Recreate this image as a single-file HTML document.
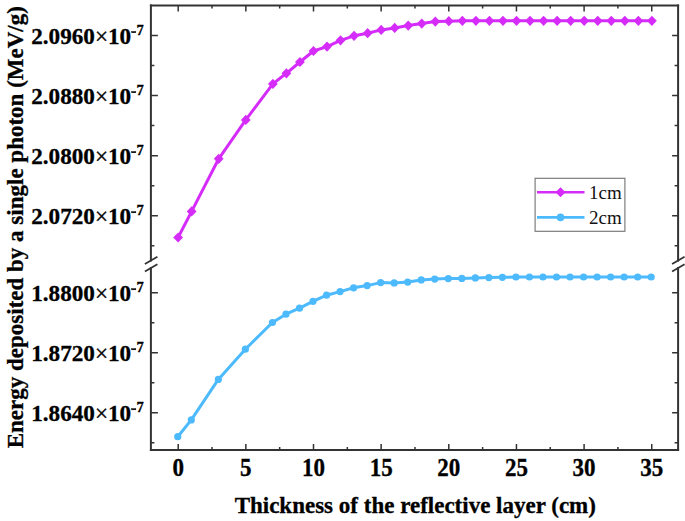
<!DOCTYPE html>
<html><head><meta charset="utf-8"><style>
html,body{margin:0;padding:0;background:#fff;}
body{width:685px;height:521px;overflow:hidden;}
svg{display:block;}
#w{width:685px;height:521px;}
</style></head><body>
<div id="w"><svg width="685" height="521" viewBox="0 0 685 521"><g stroke="#333" stroke-width="2" fill="none" stroke-linecap="square"><path d="M150.9 5.6H678.1M150.9 449.9H678.1"/><path d="M150.9 5.6V260.5M150.9 268.0V449.9"/><path d="M678.1 5.6V260.5M678.1 268.0V449.9"/></g><g stroke="#333" stroke-width="1.8" fill="none"><path d="M144.9 264.0L157.4 256.8"/><path d="M144.9 271.5L157.4 264.3"/><path d="M672.1 264.0L684.6 256.8"/><path d="M672.1 271.5L684.6 264.3"/></g><g stroke="#333" stroke-width="1.5" fill="none"><path d="M178.20 449.9v-6M178.20 5.6v6M212.02 449.9v-3M212.02 5.6v3M245.85 449.9v-6M245.85 5.6v6M279.67 449.9v-3M279.67 5.6v3M313.50 449.9v-6M313.50 5.6v6M347.32 449.9v-3M347.32 5.6v3M381.15 449.9v-6M381.15 5.6v6M414.97 449.9v-3M414.97 5.6v3M448.80 449.9v-6M448.80 5.6v6M482.62 449.9v-3M482.62 5.6v3M516.45 449.9v-6M516.45 5.6v6M550.27 449.9v-3M550.27 5.6v3M584.10 449.9v-6M584.10 5.6v6M617.92 449.9v-3M617.92 5.6v3M651.75 449.9v-6M651.75 5.6v6M150.9 35.55h7M678.1 35.55h-6M150.9 65.57h3.5M678.1 65.57h-3.5M150.9 95.59h7M678.1 95.59h-6M150.9 125.61h3.5M678.1 125.61h-3.5M150.9 155.63h7M678.1 155.63h-6M150.9 185.65h3.5M678.1 185.65h-3.5M150.9 215.67h7M678.1 215.67h-6M150.9 245.69h3.5M678.1 245.69h-3.5M150.9 292.70h7M678.1 292.70h-6M150.9 322.70h3.5M678.1 322.70h-3.5M150.9 352.70h7M678.1 352.70h-6M150.9 382.70h3.5M678.1 382.70h-3.5M150.9 412.70h7M678.1 412.70h-6M150.9 442.70h3.5M678.1 442.70h-3.5"/></g><polyline points="178.10,237.50 191.64,211.40 218.71,158.80 245.78,119.90 272.86,83.90 286.40,73.30 299.93,62.00 313.47,51.00 327.01,46.60 340.54,40.30 354.08,35.80 367.62,33.20 381.15,29.90 394.69,27.90 408.23,25.60 421.77,23.60 435.30,21.60 448.84,21.20 462.38,20.80 475.91,20.80 489.45,20.80 502.99,20.80 516.52,20.80 530.06,20.80 543.60,20.80 557.14,20.80 570.67,20.80 584.21,20.80 597.75,20.80 611.28,20.80 624.82,20.80 638.36,20.80 651.89,20.80" fill="none" stroke="#D52CFA" stroke-width="3" stroke-linejoin="round"/><g fill="#D52CFA"><path d="M178.10 232.40L183.00 237.50L178.10 242.60L173.20 237.50Z"/><path d="M191.64 206.30L196.54 211.40L191.64 216.50L186.74 211.40Z"/><path d="M218.71 153.70L223.61 158.80L218.71 163.90L213.81 158.80Z"/><path d="M245.78 114.80L250.69 119.90L245.78 125.00L240.88 119.90Z"/><path d="M272.86 78.80L277.76 83.90L272.86 89.00L267.96 83.90Z"/><path d="M286.40 68.20L291.30 73.30L286.40 78.40L281.50 73.30Z"/><path d="M299.93 56.90L304.83 62.00L299.93 67.10L295.03 62.00Z"/><path d="M313.47 45.90L318.37 51.00L313.47 56.10L308.57 51.00Z"/><path d="M327.01 41.50L331.91 46.60L327.01 51.70L322.11 46.60Z"/><path d="M340.54 35.20L345.44 40.30L340.54 45.40L335.64 40.30Z"/><path d="M354.08 30.70L358.98 35.80L354.08 40.90L349.18 35.80Z"/><path d="M367.62 28.10L372.52 33.20L367.62 38.30L362.72 33.20Z"/><path d="M381.15 24.80L386.05 29.90L381.15 35.00L376.25 29.90Z"/><path d="M394.69 22.80L399.59 27.90L394.69 33.00L389.79 27.90Z"/><path d="M408.23 20.50L413.13 25.60L408.23 30.70L403.33 25.60Z"/><path d="M421.77 18.50L426.67 23.60L421.77 28.70L416.87 23.60Z"/><path d="M435.30 16.50L440.20 21.60L435.30 26.70L430.40 21.60Z"/><path d="M448.84 16.10L453.74 21.20L448.84 26.30L443.94 21.20Z"/><path d="M462.38 15.70L467.28 20.80L462.38 25.90L457.48 20.80Z"/><path d="M475.91 15.70L480.81 20.80L475.91 25.90L471.01 20.80Z"/><path d="M489.45 15.70L494.35 20.80L489.45 25.90L484.55 20.80Z"/><path d="M502.99 15.70L507.89 20.80L502.99 25.90L498.09 20.80Z"/><path d="M516.52 15.70L521.42 20.80L516.52 25.90L511.62 20.80Z"/><path d="M530.06 15.70L534.96 20.80L530.06 25.90L525.16 20.80Z"/><path d="M543.60 15.70L548.50 20.80L543.60 25.90L538.70 20.80Z"/><path d="M557.14 15.70L562.04 20.80L557.14 25.90L552.24 20.80Z"/><path d="M570.67 15.70L575.57 20.80L570.67 25.90L565.77 20.80Z"/><path d="M584.21 15.70L589.11 20.80L584.21 25.90L579.31 20.80Z"/><path d="M597.75 15.70L602.65 20.80L597.75 25.90L592.85 20.80Z"/><path d="M611.28 15.70L616.18 20.80L611.28 25.90L606.38 20.80Z"/><path d="M624.82 15.70L629.72 20.80L624.82 25.90L619.92 20.80Z"/><path d="M638.36 15.70L643.26 20.80L638.36 25.90L633.46 20.80Z"/><path d="M651.89 15.70L656.79 20.80L651.89 25.90L647.00 20.80Z"/></g><polyline points="177.75,436.70 191.28,419.90 218.33,379.40 245.38,349.20 272.44,322.50 285.97,314.20 299.49,308.20 313.02,301.30 326.55,295.20 340.07,291.60 353.60,287.80 367.13,285.60 380.65,282.60 394.18,282.90 407.71,282.10 421.24,279.90 434.76,279.10 448.29,278.60 461.82,278.40 475.34,277.90 488.87,277.60 502.40,277.30 515.92,277.00 529.45,277.00 542.98,277.00 556.51,277.00 570.03,277.00 583.56,277.00 597.09,277.00 610.61,277.00 624.14,277.00 637.67,277.00 651.19,277.00" fill="none" stroke="#4CBAFD" stroke-width="3" stroke-linejoin="round"/><g fill="#4CBAFD"><circle cx="177.75" cy="436.70" r="3.6"/><circle cx="191.28" cy="419.90" r="3.6"/><circle cx="218.33" cy="379.40" r="3.6"/><circle cx="245.38" cy="349.20" r="3.6"/><circle cx="272.44" cy="322.50" r="3.6"/><circle cx="285.97" cy="314.20" r="3.6"/><circle cx="299.49" cy="308.20" r="3.6"/><circle cx="313.02" cy="301.30" r="3.6"/><circle cx="326.55" cy="295.20" r="3.6"/><circle cx="340.07" cy="291.60" r="3.6"/><circle cx="353.60" cy="287.80" r="3.6"/><circle cx="367.13" cy="285.60" r="3.6"/><circle cx="380.65" cy="282.60" r="3.6"/><circle cx="394.18" cy="282.90" r="3.6"/><circle cx="407.71" cy="282.10" r="3.6"/><circle cx="421.24" cy="279.90" r="3.6"/><circle cx="434.76" cy="279.10" r="3.6"/><circle cx="448.29" cy="278.60" r="3.6"/><circle cx="461.82" cy="278.40" r="3.6"/><circle cx="475.34" cy="277.90" r="3.6"/><circle cx="488.87" cy="277.60" r="3.6"/><circle cx="502.40" cy="277.30" r="3.6"/><circle cx="515.92" cy="277.00" r="3.6"/><circle cx="529.45" cy="277.00" r="3.6"/><circle cx="542.98" cy="277.00" r="3.6"/><circle cx="556.51" cy="277.00" r="3.6"/><circle cx="570.03" cy="277.00" r="3.6"/><circle cx="583.56" cy="277.00" r="3.6"/><circle cx="597.09" cy="277.00" r="3.6"/><circle cx="610.61" cy="277.00" r="3.6"/><circle cx="624.14" cy="277.00" r="3.6"/><circle cx="637.67" cy="277.00" r="3.6"/><circle cx="651.19" cy="277.00" r="3.6"/></g><rect x="535.1" y="178.3" width="89.8" height="53" fill="#fff" stroke="#777" stroke-width="1.15"/><path d="M537 192.2H584.5" stroke="#D52CFA" stroke-width="2.6"/><path d="M560.5 187.2L565.5 192.2L560.5 197.2L555.5 192.2Z" fill="#D52CFA"/><path d="M537 217.4H584.5" stroke="#4CBAFD" stroke-width="2.6"/><circle cx="560.5" cy="217.4" r="3.8" fill="#4CBAFD"/><g font-family="Liberation Serif, serif" font-size="19" fill="#111"><text x="589" y="199.2">1cm</text><text x="589" y="223.8">2cm</text></g><g font-family="Liberation Serif, serif" font-weight="bold" font-size="23.0" fill="#000" stroke="#000" stroke-width="0.3"><text transform="translate(178.20 475.6) scale(1 1.05)" text-anchor="middle">0</text><text transform="translate(245.85 475.6) scale(1 1.05)" text-anchor="middle">5</text><text transform="translate(313.50 475.6) scale(1 1.05)" text-anchor="middle">10</text><text transform="translate(381.15 475.6) scale(1 1.05)" text-anchor="middle">15</text><text transform="translate(448.80 475.6) scale(1 1.05)" text-anchor="middle">20</text><text transform="translate(516.45 475.6) scale(1 1.05)" text-anchor="middle">25</text><text transform="translate(584.10 475.6) scale(1 1.05)" text-anchor="middle">30</text><text transform="translate(651.75 475.6) scale(1 1.05)" text-anchor="middle">35</text><text transform="translate(131.2 43.70) scale(1 1.0)" font-size="23.2" text-anchor="end">2.0960<tspan font-weight="normal" stroke-width="0.4">×</tspan>10</text><text x="136.6" y="34.95" font-size="14.5">7</text><rect x="131.5" y="31.40" width="4.4" height="1.4"/><text transform="translate(131.2 103.73) scale(1 1.0)" font-size="23.2" text-anchor="end">2.0880<tspan font-weight="normal" stroke-width="0.4">×</tspan>10</text><text x="136.6" y="94.98" font-size="14.5">7</text><rect x="131.5" y="91.43" width="4.4" height="1.4"/><text transform="translate(131.2 163.76) scale(1 1.0)" font-size="23.2" text-anchor="end">2.0800<tspan font-weight="normal" stroke-width="0.4">×</tspan>10</text><text x="136.6" y="155.01" font-size="14.5">7</text><rect x="131.5" y="151.46" width="4.4" height="1.4"/><text transform="translate(131.2 223.79) scale(1 1.0)" font-size="23.2" text-anchor="end">2.0720<tspan font-weight="normal" stroke-width="0.4">×</tspan>10</text><text x="136.6" y="215.04" font-size="14.5">7</text><rect x="131.5" y="211.49" width="4.4" height="1.4"/><text transform="translate(131.2 301.30) scale(1 1.0)" font-size="23.2" text-anchor="end">1.8800<tspan font-weight="normal" stroke-width="0.4">×</tspan>10</text><text x="136.6" y="292.05" font-size="14.5">7</text><rect x="131.5" y="288.50" width="4.4" height="1.4"/><text transform="translate(131.2 361.30) scale(1 1.0)" font-size="23.2" text-anchor="end">1.8720<tspan font-weight="normal" stroke-width="0.4">×</tspan>10</text><text x="136.6" y="352.05" font-size="14.5">7</text><rect x="131.5" y="348.50" width="4.4" height="1.4"/><text transform="translate(131.2 421.30) scale(1 1.0)" font-size="23.2" text-anchor="end">1.8640<tspan font-weight="normal" stroke-width="0.4">×</tspan>10</text><text x="136.6" y="412.05" font-size="14.5">7</text><rect x="131.5" y="408.50" width="4.4" height="1.4"/></g><g font-family="Liberation Serif, serif" font-weight="bold" font-size="23" fill="#000" stroke="#000" stroke-width="0.3"><text x="415.3" y="512.6" text-anchor="middle">Thickness of the reflective layer (cm)</text><text transform="translate(23 227.2) rotate(-90)" text-anchor="middle">Energy deposited by a single photon (MeV/g)</text></g></svg></div>
</body></html>
